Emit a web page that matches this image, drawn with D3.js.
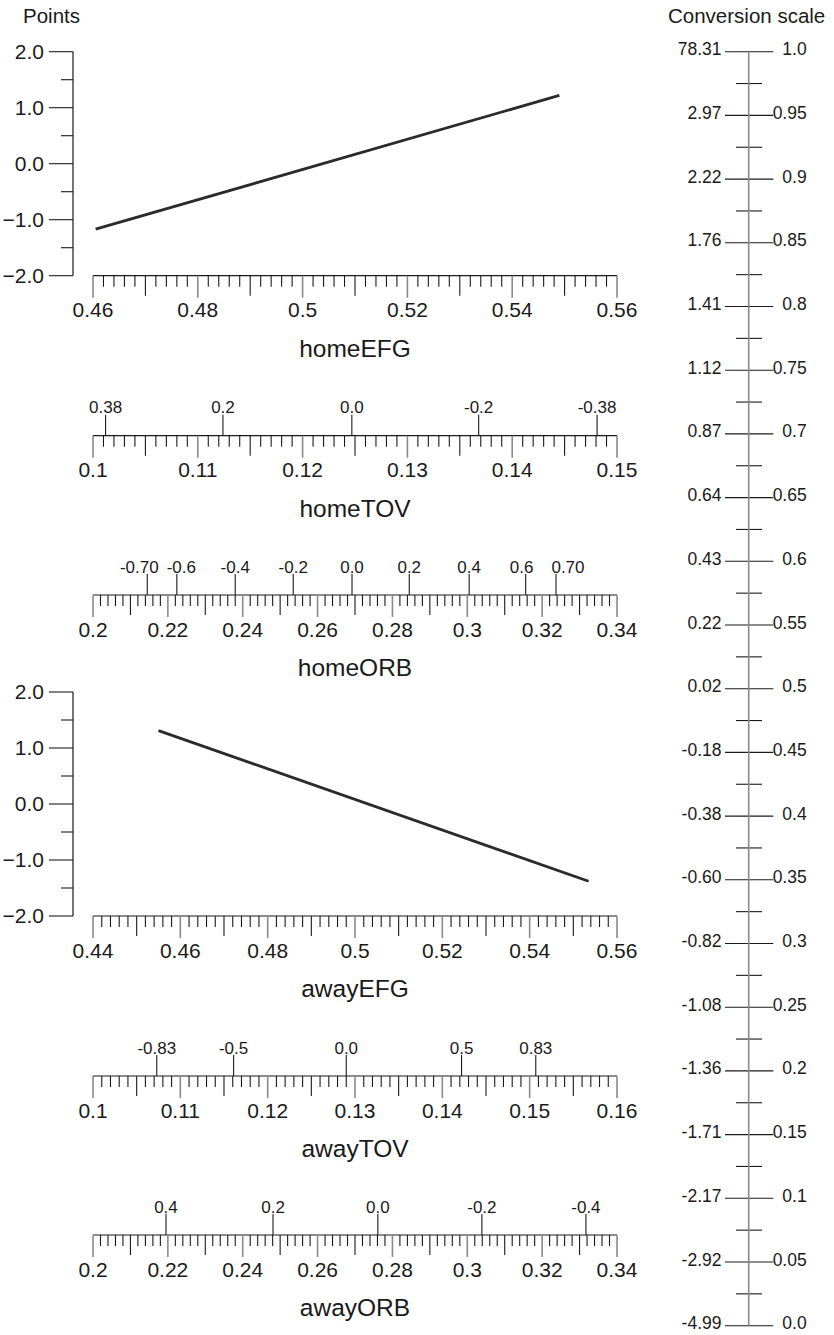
<!DOCTYPE html>
<html><head><meta charset="utf-8">
<script src="https://cdn.jsdelivr.net/npm/d3@7"></script>
<style>
body{margin:0;background:#fff}
text{font-family:"Liberation Sans",Arial,Helvetica,sans-serif;fill:#1a1a1a}
</style>
</head><body>
<svg id="c" width="834" height="1335"></svg>
<script>
// ---------- data ----------
const yTickValues = [2, 1.5, 1, 0.5, 0, -0.5, -1, -1.5, -2];
const yLabelValues = [2, 1, 0, -1, -2];

const homeEFGDomain = [0.46, 0.56];
const homeEFGLine = [[0.4605, -1.17], [0.549, 1.22]];

const homeTOVDomain = [0.10, 0.15];
const homeTOVPoints = ["0.38", "0.2", "0.0", "-0.2", "-0.38"];
const homeTOVAt = [0.1012, 0.1124, 0.1247, 0.1368, 0.1481];

const homeORBDomain = [0.20, 0.34];
const homeORBPoints = ["-0.70", "-0.6", "-0.4", "-0.2", "0.0", "0.2", "0.4", "0.6", "0.70"];
const homeORBAt = [0.2145, 0.2224, 0.2380, 0.2535, 0.2692, 0.2845, 0.3005, 0.3156, 0.3237];

const awayEFGDomain = [0.44, 0.56];
const awayEFGLine = [[0.455, 1.31], [0.5535, -1.38]];

const awayTOVDomain = [0.10, 0.16];
const awayTOVPoints = ["-0.83", "-0.5", "0.0", "0.5", "0.83"];
const awayTOVAt = [0.1073, 0.1161, 0.1290, 0.1422, 0.1507];

const awayORBDomain = [0.20, 0.34];
const awayORBPoints = ["0.4", "0.2", "0.0", "-0.2", "-0.4"];
const awayORBAt = [0.2195, 0.2481, 0.2761, 0.3039, 0.3317];

const convPointLabels = ["78.31", "2.97", "2.22", "1.76", "1.41", "1.12", "0.87", "0.64", "0.43", "0.22", "0.02",
  "-0.18", "-0.38", "-0.60", "-0.82", "-1.08", "-1.36", "-1.71", "-2.17", "-2.92", "-4.99"];
const convProbLabels = ["1.0", "0.95", "0.9", "0.85", "0.8", "0.75", "0.7", "0.65", "0.6", "0.55", "0.5",
  "0.45", "0.4", "0.35", "0.3", "0.25", "0.2", "0.15", "0.1", "0.05", "0.0"];

// tick steps (minor, medium, labelled)
const efgSteps = [0.002, 0.01, 0.02];
const tovSteps = [0.001, 0.005, 0.01];
const orbSteps = [0.002, 0.01, 0.02];

// ---------- layout ----------
const X0 = 93, X1 = 617, YAX = 73;
const svg = d3.select("#c");
const DARK = "#1a1a1a", GREY = "#8a8a8a";

function xAxis(axisY, domain, steps, title) {
  const x = d3.scaleLinear().domain(domain).range([X0, X1]);
  const g = svg.append("g");
  g.append("line").attr("x1", X0).attr("x2", X1).attr("y1", axisY).attr("y2", axisY)
    .attr("stroke", DARK).attr("stroke-width", 1.2);
  const n = Math.round((domain[1] - domain[0]) / steps[0]);
  const midEvery = Math.round(steps[1] / steps[0]);
  const majEvery = Math.round(steps[2] / steps[0]);
  const ticks = d3.range(n + 1).map(i => ({ i, v: domain[0] + i * steps[0] }));
  g.selectAll("line.t").data(ticks).join("line")
    .attr("x1", d => x(d.v)).attr("x2", d => x(d.v))
    .attr("y1", axisY)
    .attr("y2", d => axisY + (d.i % majEvery === 0 ? 22 : d.i % midEvery === 0 ? 20 : 11))
    .attr("stroke", d => d.i % majEvery === 0 ? GREY : DARK)
    .attr("stroke-width", d => d.i % majEvery === 0 ? 1.6 : 1.1);
  const fmt = d3.format("~g");
  g.selectAll("text.l").data(ticks.filter(d => d.i % majEvery === 0)).join("text")
    .attr("x", d => x(d.v)).attr("y", axisY + 41.5)
    .attr("text-anchor", "middle").attr("font-size", 21)
    .text(d => fmt(+d.v.toFixed(4)));
  svg.append("text").attr("x", (X0 + X1) / 2).attr("y", axisY + 81)
    .attr("text-anchor", "middle").attr("font-size", 24.5).text(title);
  return x;
}

function pointsTicks(axisY, x, labels, at, nudge) {
  const data = labels.map((l, i) => ({ l, v: at[i], dx: nudge ? nudge[i] : 0 }));
  const g = svg.append("g");
  g.selectAll("line").data(data).join("line")
    .attr("x1", d => x(d.v)).attr("x2", d => x(d.v))
    .attr("y1", axisY - 21).attr("y2", axisY)
    .attr("stroke", DARK).attr("stroke-width", 1.1);
  g.selectAll("text").data(data).join("text")
    .attr("x", d => x(d.v) + d.dx).attr("y", axisY - 22.5)
    .attr("text-anchor", "middle").attr("font-size", 17)
    .text(d => d.l);
}

function efgPanel(top, axisY, domain, line, title) {
  const y = d3.scaleLinear().domain([-2, 2]).range([axisY, top]);
  const g = svg.append("g");
  g.append("line").attr("x1", YAX).attr("x2", YAX).attr("y1", top).attr("y2", axisY)
    .attr("stroke", DARK).attr("stroke-width", 1.2);
  g.selectAll("line.t").data(yTickValues).join("line")
    .attr("x1", d => yLabelValues.includes(d) ? YAX - 24 : YAX - 12).attr("x2", YAX)
    .attr("y1", d => y(d)).attr("y2", d => y(d))
    .attr("stroke", DARK).attr("stroke-width", 1.1);
  g.selectAll("text").data(yLabelValues).join("text")
    .attr("x", YAX - 29).attr("y", d => y(d) + 7.3)
    .attr("text-anchor", "end").attr("font-size", 21)
    .text(d => d3.format(".1f")(d));
  const x = xAxis(axisY, domain, efgSteps, title);
  svg.append("path").datum(line)
    .attr("d", d3.line().x(d => x(d[0])).y(d => y(d[1])))
    .attr("fill", "none").attr("stroke", "#2a2a2a").attr("stroke-width", 2.8);
}

// Points title
svg.append("text").attr("x", 23).attr("y", 22.5).attr("font-size", 20.5).text("Points");

// home group
efgPanel(51.7, 275.7, homeEFGDomain, homeEFGLine, "homeEFG");
const xHT = xAxis(435.7, homeTOVDomain, tovSteps, "homeTOV");
pointsTicks(435.7, xHT, homeTOVPoints, homeTOVAt);
const xHO = xAxis(595, homeORBDomain, orbSteps, "homeORB");
pointsTicks(595, xHO, homeORBPoints, homeORBAt, [-8, 4.5, 0, 0, 0, 0, 0, -4, 12]);

// away group
efgPanel(692, 916, awayEFGDomain, awayEFGLine, "awayEFG");
const xAT = xAxis(1076, awayTOVDomain, tovSteps, "awayTOV");
pointsTicks(1076, xAT, awayTOVPoints, awayTOVAt);
const xAO = xAxis(1235, awayORBDomain, orbSteps, "awayORB");
pointsTicks(1235, xAO, awayORBPoints, awayORBAt);

// ---------- conversion scale ----------
const CX = 748.7;
const yc = d3.scaleLinear().domain([0, 1]).range([1325.7, 51.7]);
svg.append("text").attr("x", 668).attr("y", 23).attr("font-size", 20.5).text("Conversion scale");
const cg = svg.append("g");
const probs = convProbLabels.map(Number);
const minorProbs = d3.range(20).map(i => (i * 0.05 + 0.025));
cg.selectAll("line.mi").data(minorProbs).join("line")
  .attr("x1", 736).attr("x2", 762).attr("y1", d => yc(d)).attr("y2", d => yc(d))
  .attr("stroke", DARK).attr("stroke-width", 1.1);
cg.selectAll("line.ma").data(probs).join("line")
  .attr("x1", 725).attr("x2", 773.3).attr("y1", d => yc(d)).attr("y2", d => yc(d))
  .attr("stroke", DARK).attr("stroke-width", 1.1);
cg.append("line").attr("x1", CX).attr("x2", CX).attr("y1", yc(1)).attr("y2", yc(0))
  .attr("stroke", GREY).attr("stroke-width", 1.6);
cg.selectAll("text.pl").data(convPointLabels).join("text")
  .attr("x", 721.5).attr("y", (d, i) => yc(probs[i]) + 3.5)
  .attr("text-anchor", "end").attr("font-size", 17.5).text(d => d);
cg.selectAll("text.pr").data(convProbLabels).join("text")
  .attr("x", 806.7).attr("y", (d, i) => yc(probs[i]) + 3.5)
  .attr("text-anchor", "end").attr("font-size", 17.5).text(d => d);
</script>
</body></html>
